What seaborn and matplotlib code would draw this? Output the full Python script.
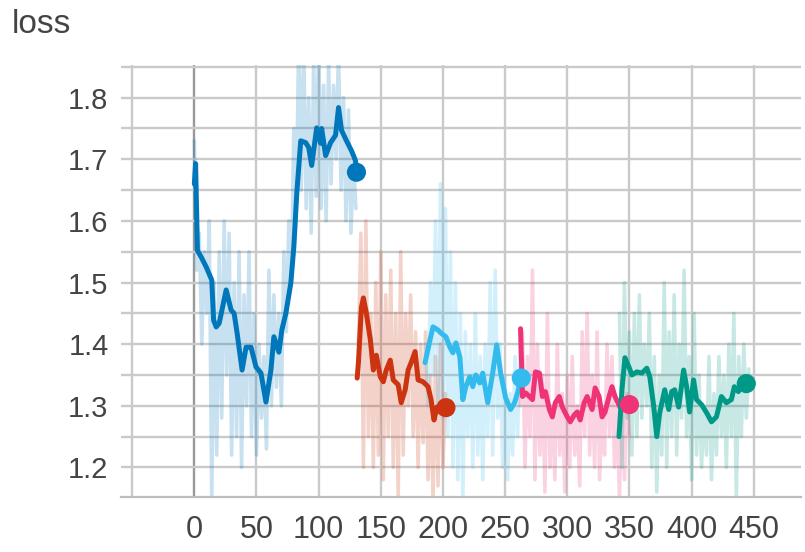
import matplotlib
matplotlib.use("Agg")
import matplotlib.pyplot as plt
import seaborn as sns
import numpy as np
import pandas as pd

# ---- runs: (step, smoothed loss) ----
blue_steps = [0, 1, 2.5, 5.6, 9.6, 14, 15.5, 17.6, 20, 25.6, 29.6, 32, 34.4, 38.4, 41.6, 45.6,
              49.6, 53.6, 57.6, 61.6, 64, 68, 70.4, 73.6, 77.6, 80, 82.4, 85.6, 89.6, 92,
              94.4, 98.4, 101.6, 102.4, 105.6, 109.6, 113.6, 116, 118.4, 122.4, 126.4, 129.6, 130.4]
blue_smooth = [1.66, 1.693, 1.552, 1.541, 1.525, 1.504, 1.439, 1.428, 1.434, 1.488, 1.455, 1.45,
               1.418, 1.358, 1.395, 1.395, 1.363, 1.353, 1.306, 1.358, 1.412, 1.387, 1.423, 1.45,
               1.499, 1.557, 1.645, 1.730, 1.727, 1.719, 1.69, 1.751, 1.726, 1.75, 1.706, 1.727,
               1.739, 1.784, 1.747, 1.73, 1.714, 1.698, 1.679]

red_steps = [131, 132, 134.4, 136, 138.4, 141.6, 144, 146.4, 149.6, 152, 154.4, 157.6, 160, 164,
             166.4, 169.6, 172, 174.4, 177.6, 180, 184, 188, 190.4, 192.8, 195.2, 198.4, 202.4]
red_smooth = [1.345, 1.37, 1.46, 1.475, 1.45, 1.407, 1.358, 1.382, 1.347, 1.339, 1.358, 1.374,
              1.342, 1.334, 1.305, 1.326, 1.358, 1.37, 1.388, 1.342, 1.339, 1.331, 1.31, 1.277,
              1.298, 1.289, 1.297]

cyan_steps = [185.6, 189.6, 192, 196, 198.4, 202.4, 205.6, 208, 210.4, 213.6, 216, 218.4, 221.6,
              224, 226.4, 229.6, 232, 236, 240, 243.2, 246.4, 250.4, 254.4, 257.6, 260, 263]
cyan_smooth = [1.37, 1.407, 1.428, 1.423, 1.418, 1.412, 1.395, 1.386, 1.402, 1.379, 1.31, 1.331,
               1.347, 1.331, 1.35, 1.337, 1.353, 1.305, 1.353, 1.399, 1.353, 1.313, 1.294, 1.305,
               1.321, 1.345]

pink_steps = [262.4, 264, 266.4, 269.6, 272, 274.4, 277.6, 280, 282.4, 285.6, 288, 290.4, 293.6,
              296, 300, 302.4, 305.6, 308, 310.4, 313.6, 316, 320, 322.4, 325.6, 328, 330.4,
              333.6, 336, 338.4, 342.4, 346.4, 350]
pink_smooth = [1.425, 1.315, 1.321, 1.315, 1.31, 1.355, 1.353, 1.315, 1.323, 1.294, 1.282, 1.305,
               1.315, 1.298, 1.282, 1.274, 1.285, 1.29, 1.277, 1.305, 1.315, 1.294, 1.329, 1.315,
               1.282, 1.29, 1.315, 1.331, 1.315, 1.298, 1.297, 1.302]

teal_steps = [341.6, 344, 346.4, 349.6, 352, 356, 360, 364, 366.4, 369.6, 372, 374.4, 378.4,
              381.6, 384, 386.4, 389.6, 393.6, 396, 398.4, 401.6, 404, 408, 412, 416, 420, 424,
              428, 432, 434.4, 437.6, 441.6, 444]
teal_smooth = [1.25, 1.326, 1.378, 1.363, 1.35, 1.355, 1.353, 1.361, 1.347, 1.298, 1.25, 1.289,
               1.326, 1.294, 1.323, 1.326, 1.298, 1.358, 1.331, 1.29, 1.342, 1.31, 1.302, 1.289,
               1.274, 1.282, 1.315, 1.305, 1.31, 1.331, 1.323, 1.337, 1.336]

# raw (unsmoothed) values, logged every 2 steps
blue_raw_start, red_raw_start, cyan_raw_start, pink_raw_start, teal_raw_start = 0, 132, 186, 262, 342
blue_raw = [1.73, 1.52, 1.58, 1.40, 1.55, 1.45, 1.60, 1.15, 1.50, 1.22, 1.55, 1.28, 1.60, 1.35,
            1.58, 1.22, 1.50, 1.25, 1.55, 1.20, 1.48, 1.30, 1.55, 1.25, 1.45, 1.22, 1.40, 1.28,
            1.38, 1.23, 1.52, 1.30, 1.48, 1.33, 1.45, 1.30, 1.55, 1.42, 1.60, 1.50, 1.75, 1.62,
            1.90, 1.65, 1.88, 1.62, 1.80, 1.58, 1.86, 1.64, 1.90, 1.62, 1.82, 1.60, 1.86, 1.66,
            1.82, 1.70, 1.88, 1.65, 1.80, 1.60, 1.78, 1.58, 1.70, 1.62]
red_raw = [1.40, 1.58, 1.20, 1.60, 1.25, 1.45, 1.20, 1.50, 1.22, 1.55, 1.18, 1.48, 1.25, 1.52,
           1.20, 1.45, 1.15, 1.55, 1.22, 1.45, 1.30, 1.48, 1.25, 1.42, 1.20, 1.40, 1.24, 1.42,
           1.18, 1.35, 1.15, 1.38, 1.17, 1.40, 1.20, 1.32]
cyan_raw = [1.40, 1.30, 1.50, 1.35, 1.60, 1.30, 1.66, 1.28, 1.62, 1.25, 1.55, 1.20, 1.50, 1.18,
            1.45, 1.15, 1.42, 1.25, 1.40, 1.20, 1.45, 1.22, 1.38, 1.18, 1.40, 1.25, 1.50, 1.22,
            1.52, 1.28, 1.40, 1.20, 1.35, 1.18, 1.32, 1.22, 1.38, 1.25, 1.40]
pink_raw = [1.30, 1.42, 1.20, 1.38, 1.25, 1.52, 1.18, 1.40, 1.22, 1.35, 1.16, 1.45, 1.20, 1.30,
            1.18, 1.40, 1.22, 1.32, 1.16, 1.35, 1.20, 1.38, 1.22, 1.30, 1.17, 1.42, 1.25, 1.45,
            1.22, 1.35, 1.20, 1.42, 1.18, 1.30, 1.22, 1.40, 1.25, 1.38, 1.20, 1.30, 1.15, 1.35,
            1.18, 1.32, 1.25]
teal_raw = [1.45, 1.20, 1.50, 1.28, 1.42, 1.22, 1.45, 1.25, 1.48, 1.28, 1.40, 1.30, 1.45, 1.20,
            1.38, 1.16, 1.35, 1.22, 1.50, 1.20, 1.42, 1.25, 1.48, 1.22, 1.40, 1.28, 1.52, 1.25,
            1.38, 1.18, 1.45, 1.22, 1.35, 1.20, 1.30, 1.22, 1.38, 1.18, 1.32, 1.22, 1.38, 1.25,
            1.35, 1.20, 1.40, 1.25, 1.45, 1.15, 1.38, 1.25, 1.40, 1.28, 1.36]

colors = ["#0077BB", "#CC3311", "#33BBEE", "#EE3377", "#009988"]
x_ticks = [0, 50, 100, 150, 200, 250, 300, 350, 400, 450]
y_ticks = [1.2, 1.3, 1.4, 1.5, 1.6, 1.7, 1.8]

runs = [
    (blue_steps, blue_smooth, blue_raw_start, blue_raw),
    (red_steps, red_smooth, red_raw_start, red_raw),
    (cyan_steps, cyan_smooth, cyan_raw_start, cyan_raw),
    (pink_steps, pink_smooth, pink_raw_start, pink_raw),
    (teal_steps, teal_smooth, teal_raw_start, teal_raw),
]

sns.set_style("white")
plt.rcParams["font.family"] = ["Liberation Sans", "DejaVu Sans"]

fig = plt.figure(figsize=(8.05, 5.52), dpi=100)
ax = fig.add_axes([121 / 805, 1 - 497 / 552, 1 - 121 / 805 - 0.005, (497 - 65) / 552])

grid_c = "#cacaca"
for v in np.arange(-50, 500, 50):
    ax.axvline(v, color="#999999" if v == 0 else grid_c, lw=1.7, zorder=0)
for v in np.arange(1.15, 1.86, 0.05):
    ax.axhline(v, color=grid_c, lw=1.7, zorder=0)

# raw, faded
for (steps, smooth, start, raw), c in zip(runs, colors):
    df = pd.DataFrame({"step": np.arange(start, start + 2 * len(raw), 2), "loss": raw})
    sns.lineplot(data=df, x="step", y="loss", color=c, alpha=0.22, lw=2.6,
                 estimator=None, sort=False, ax=ax, zorder=2)

# smoothed + end dot
for (steps, smooth, start, raw), c in zip(runs, colors):
    df = pd.DataFrame({"step": steps, "loss": smooth})
    sns.lineplot(data=df, x="step", y="loss", color=c, lw=3.6, estimator=None, sort=False,
                 solid_joinstyle="round", solid_capstyle="round", ax=ax, zorder=3)
    sns.scatterplot(data=df.tail(1), x="step", y="loss", color=c, s=190, edgecolor="none",
                    ax=ax, zorder=4)

ax.set_xlim(-59, 488)
ax.set_ylim(1.152, 1.853)
ax.set_xticks(x_ticks)
ax.set_yticks(y_ticks)
ax.set_yticklabels([f"{v:.1f}" for v in y_ticks])
ax.set_xlabel("")
ax.set_ylabel("")
for s in ["top", "right", "left"]:
    ax.spines[s].set_visible(False)
ax.spines["bottom"].set_color("#bdbdbd")
ax.spines["bottom"].set_linewidth(1.6)
ax.tick_params(axis="y", length=0, pad=9, labelsize=21, labelcolor="#444444")
ax.tick_params(axis="x", length=8, width=1.4, color="#c8c8c8", pad=5, labelsize=22,
               labelcolor="#444444")
for lab in ax.get_xticklabels():
    lab.set_family(["Liberation Sans Narrow", "Liberation Sans", "DejaVu Sans"])

fig.text(12 / 805, 1 - 33 / 552, "loss", fontsize=24, color="#444444", va="baseline")

fig.savefig("out.png", dpi=100)
